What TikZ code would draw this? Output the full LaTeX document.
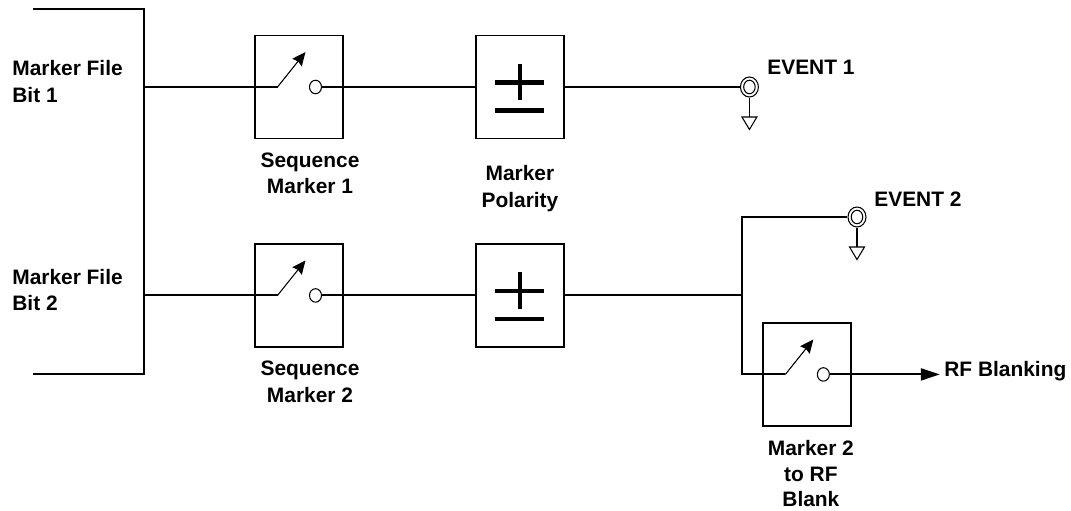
\documentclass[tikz,border=0pt]{standalone}
\usepackage{fontspec}
\setmainfont{Liberation Sans}
\usetikzlibrary{arrows.meta,positioning,calc,shapes.geometric}

\begin{document}
\begin{tikzpicture}[
    box/.style={rectangle,draw,line width=1.1pt,minimum width=1.76cm,minimum height=2.06cm,inner sep=0pt},
    contact/.style={ellipse,draw,line width=0.6pt,minimum width=0.24cm,minimum height=0.27cm,inner sep=0pt},
    jack/.style={ellipse,draw,line width=0.6pt,minimum width=0.36cm,minimum height=0.4cm,inner sep=0pt},
    jackin/.style={ellipse,draw,line width=0.6pt,minimum width=0.23cm,minimum height=0.27cm,inner sep=0pt},
    wire/.style={line width=1.15pt},
    thinline/.style={line width=0.6pt},
    bar/.style={line width=2.4pt},
    label/.style={font=\bfseries\fontsize{11.9pt}{15pt}\selectfont,align=center,inner sep=0pt},
    leftlabel/.style={label,align=left,anchor=west},
    arrow/.style={wire,-{Stealth[length=0.38cm,width=0.24cm,inset=0pt]}},
    lever/.style={thinline,-{Stealth[length=0.27cm,width=0.24cm,inset=0.03cm]}}
]
    \useasboundingbox (0,0) rectangle (21.42,10.22);

    \node[box] (seq1) at (5.98,8.48) {};
    \node[box,right=2.62cm of seq1] (pol1) {};
    \node[box,below=2.07cm of seq1] (seq2) {};
    \node[box,below=2.07cm of pol1] (pol2) {};
    \node[box,right=3.94cm of pol2,yshift=-1.58cm] (seq3) {};

    % switch symbol in each box
    \foreach \n in {seq1,seq2,seq3} {
        \node[contact] (\n-con) at ([xshift=0.33cm]\n.center) {};
        \coordinate (\n-piv) at ([xshift=-0.43cm]\n.center);
        \draw[lever] (\n-piv) -- ([xshift=0.13cm,yshift=0.7cm]\n.center);
    }
    % plus and minus
    \foreach \n in {pol1,pol2} {
        \draw[bar] ([xshift=-0.49cm,yshift=0.09cm]\n.center) -- ([xshift=0.49cm,yshift=0.09cm]\n.center);
        \draw[bar] ([yshift=0.46cm]\n.center) -- ([yshift=-0.27cm]\n.center);
        \draw[bar] ([xshift=-0.49cm,yshift=-0.47cm]\n.center) -- ([xshift=0.49cm,yshift=-0.47cm]\n.center);
    }

    \node[jack,right=3.5cm of pol1] (ev1) {};
    \node[jack] (ev2) at (17.14,5.88) {};
    \foreach \n in {ev1,ev2} {
        \node[jackin] (\n-in) at (\n.center) {};
        \coordinate (\n-gnd) at ([yshift=-0.6cm]\n.center);
        \draw[thinline] (\n.south) -- (\n-gnd);
        \draw[thinline] ([xshift=-0.15cm]\n-gnd) -- ([xshift=0.15cm]\n-gnd) -- ([yshift=-0.25cm]\n-gnd) -- cycle;
    }

    % bracket on the left
    \coordinate (top) at (0.66,10.04);
    \coordinate (topr) at (2.88,10.04);
    \coordinate (botr) at (2.88,2.74);
    \coordinate (bot) at (0.66,2.74);
    \draw[wire] (top) -- (topr) -- (botr) -- (bot);

    \draw[wire] (seq1-piv -| topr) -- (seq1-piv);
    \draw[wire] (seq2-piv -| topr) -- (seq2-piv);
    \draw[wire] (seq1-con.east) -- (pol1.west);
    \draw[wire] (seq2-con.east) -- (pol2.west);
    \draw[wire] (pol1.east) -- (ev1.west);

    \coordinate[right=3.54cm of pol2.east] (split);
    \coordinate[right=1.76cm of seq3.east] (rfend);
    \draw[wire] (pol2.east) -- (split);
    \draw[wire] (ev2.west) -| (seq3-piv -| split) -- (seq3-piv);
    \draw[arrow] (seq3-con.east) -- (rfend);

    \node[leftlabel] (bit1) at (0.24,8.59) {Marker File\\Bit 1};
    \node[leftlabel] (bit2) at (0.24,4.42) {Marker File\\Bit 2};
    \node[label,below=0.26cm of seq1,xshift=0.22cm] (seq1txt) {Sequence\\Marker 1};
    \node[label,below=0.26cm of seq2,xshift=0.22cm] (seq2txt) {Sequence\\Marker 2};
    \node[label,below=0.52cm of pol1] (poltxt) {Marker\\Polarity};
    \node[label,font=\bfseries\fontsize{11.9pt}{14.4pt}\selectfont,below=0.27cm of seq3,xshift=0.08cm] (seq3txt) {Marker 2\\to RF\\Blank};
    \node[leftlabel] (ev1txt) at (15.34,8.88) {EVENT 1};
    \node[leftlabel] (ev2txt) at (17.48,6.24) {EVENT 2};
    \node[leftlabel] (rftxt) at (18.88,2.8) {RF Blanking};
\end{tikzpicture}
\end{document}
